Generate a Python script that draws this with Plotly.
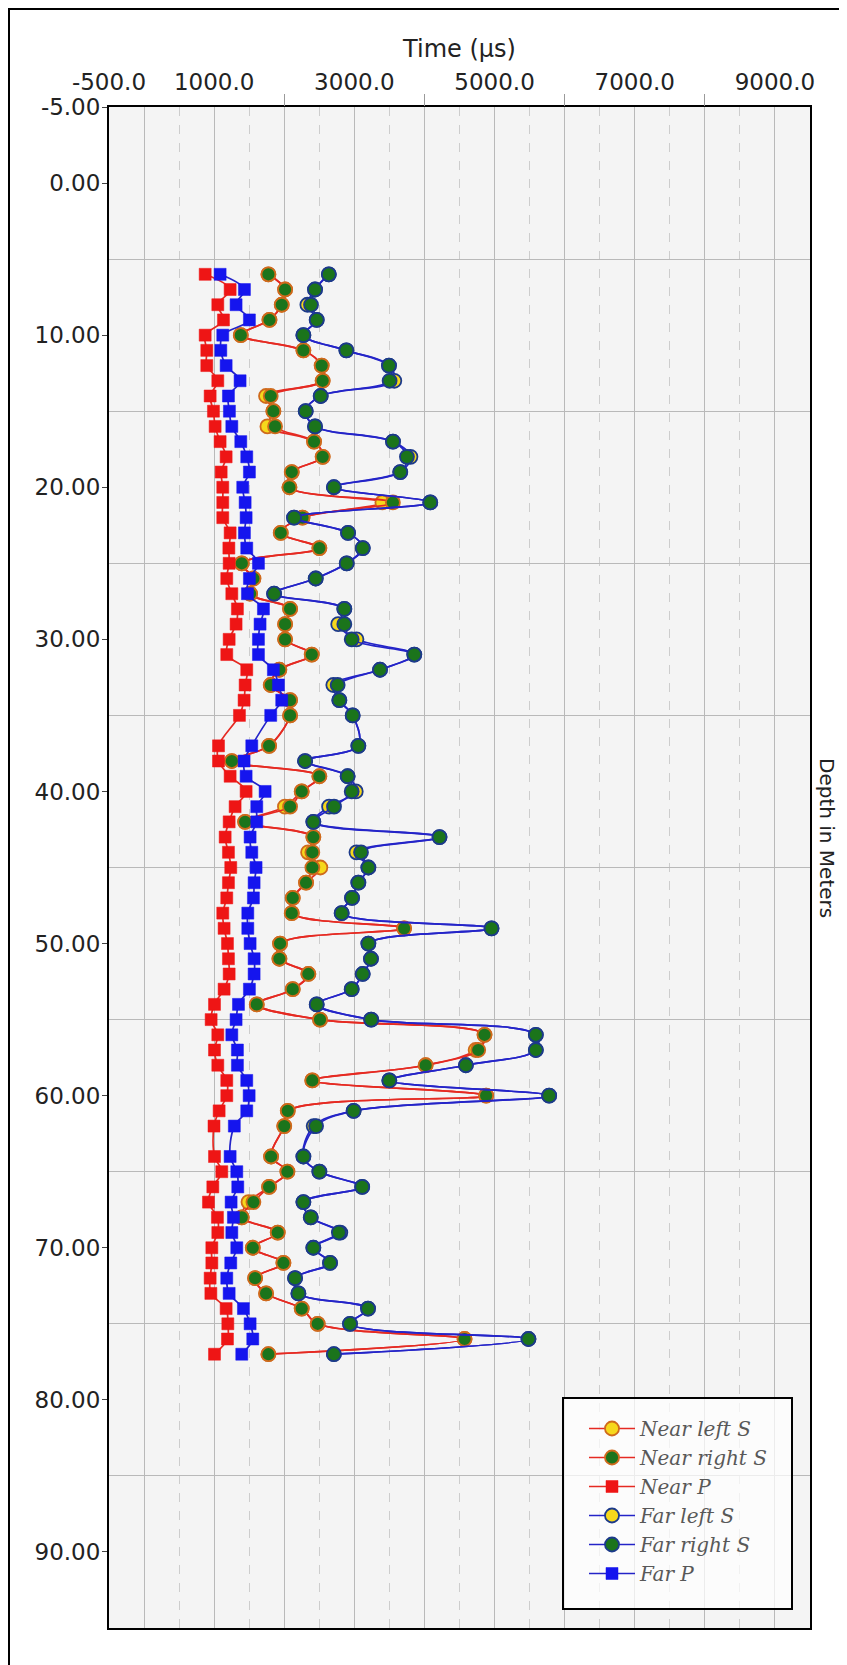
import plotly.graph_objects as go

# ---------------- data ----------------
depth = [6, 7, 8, 9, 10, 11, 12, 13, 14, 15, 16, 17, 18, 19, 20, 21, 22, 23, 24, 25,
         26, 27, 28, 29, 30, 31, 32, 33, 34, 35, 37, 38, 39, 40, 41, 42, 43, 44, 45, 46,
         47, 48, 49, 50, 51, 52, 53, 54, 55, 56, 57, 58, 59, 60, 61, 62, 64, 65, 66, 67,
         68, 69, 70, 71, 72, 73, 74, 75, 76, 77]

near_p = [872, 1228, 1052, 1133, 872, 895, 895, 1052, 943, 990, 1014, 1085, 1171, 1100, 1123, 1123, 1123, 1228, 1210, 1214,
          1180, 1252, 1332, 1313, 1214, 1180, 1465, 1442, 1427, 1361, 1062, 1062, 1228, 1456, 1299, 1214, 1157, 1204, 1237, 1204,
          1180, 1123, 1142, 1190, 1204, 1214, 1142, 1005, 957, 1052, 1005, 1052, 1180, 1180, 1071, 998, 1005, 1109, 981, 919,
          1047, 1052, 967, 967, 943, 953, 1171, 1195, 1190, 1005]

far_p = [1085, 1432, 1313, 1503, 1123, 1095, 1171, 1370, 1204, 1218, 1252, 1380, 1465, 1503, 1408, 1442, 1456, 1432, 1465, 1632,
         1503, 1475, 1703, 1655, 1632, 1632, 1845, 1917, 1964, 1807, 1537, 1427, 1456, 1727, 1608, 1608, 1513, 1537, 1598, 1570,
         1560, 1480, 1480, 1513, 1570, 1570, 1503, 1347, 1313, 1252, 1332, 1332, 1465, 1499, 1465, 1288, 1228, 1323, 1337, 1242,
         1275, 1252, 1323, 1237, 1180, 1214, 1418, 1513, 1551, 1394]

near_right_s = [1774, 2012, 1964, 1789, 1380, 2273, 2534, 2548, 1807, 1845, 1869, 2425, 2548, 2107, 2074, 3550, 2260, 1950, 2501, 1394,
                1560, 1513, 2083, 2012, 2012, 2392, 1930, 1807, 2083, 2083, 1784, 1252, 2501, 2249, 2083, 1442, 2415, 2401, 2401, 2311,
                2121, 2107, 3710, 1940, 1931, 2344, 2121, 1608, 2510, 4857, 4767, 4017, 2400, 4880, 2050, 2000, 1812, 2045, 1784, 1560,
                1394, 1907, 1551, 1988, 1584, 1741, 2249, 2477, 4572, 1774]

near_left_s = [1774, 2012, 1964, 1789, 1380, 2273, 2534, 2548, 1740, 1845, 1760, 2425, 2548, 2107, 2074, 3400, 2260, 1950, 2501, 1394,
               1560, 1513, 2083, 2012, 2012, 2392, 1930, 1807, 2083, 2083, 1784, 1252, 2501, 2249, 2010, 1442, 2415, 2340, 2515, 2311,
               2121, 2107, 3710, 1940, 1931, 2344, 2121, 1608, 2510, 4857, 4730, 4017, 2400, 4880, 2050, 2000, 1812, 2045, 1784, 1490,
               1394, 1907, 1551, 1988, 1584, 1741, 2249, 2477, 4572, 1774]

far_right_s = [2636, 2439, 2382, 2463, 2273, 2886, 3494, 3503, 2520, 2306, 2439, 3551, 3750, 3655, 2708, 4083, 2140, 2910, 3120, 2891,
               2449, 1855, 2857, 2857, 2962, 3855, 3366, 2762, 2786, 2976, 3057, 2297, 2904, 2962, 2710, 2415, 4215, 3095, 3200, 3057,
               2967, 2819, 4957, 3200, 3237, 3119, 2962, 2463, 3240, 5589, 5589, 4591, 3499, 5779, 2990, 2454, 2273, 2501, 3112, 2273,
               2378, 2779, 2415, 2653, 2154, 2202, 3195, 2938, 5484, 2708]

far_left_s = [2636, 2439, 2330, 2463, 2273, 2886, 3494, 3570, 2520, 2306, 2439, 3551, 3800, 3655, 2708, 4083, 2140, 2910, 3120, 2891,
              2449, 1855, 2857, 2770, 3030, 3855, 3366, 2700, 2786, 2976, 3057, 2297, 2904, 3020, 2640, 2415, 4215, 3030, 3200, 3057,
              2967, 2819, 4957, 3200, 3237, 3119, 2962, 2463, 3240, 5589, 5589, 4591, 3499, 5779, 2990, 2420, 2273, 2501, 3112, 2273,
              2378, 2800, 2415, 2653, 2154, 2202, 3195, 2938, 5484, 2708]

x_tick_vals = [-500, 0, 1000, 2000, 3000, 4000, 5000, 6000, 7000, 8000, 9000]
x_tick_text = ["-500.0", "", "1000.0", "", "3000.0", "", "5000.0", "", "7000.0", "", "9000.0"]
x_minor_vals = [500, 1500, 2500, 3500, 4500, 5500, 6500, 7500, 8500]
x_mark_vals = [2000, 4000, 6000, 8000]
y_tick_vals = [-5, 0, 10, 20, 30, 40, 50, 60, 70, 80, 90]
y_minor_vals = [5, 15, 25, 35, 45, 55, 65, 75, 85]

# ---------------- styles ----------------
RED = "#e52a22"
BLUE = "#2424c8"
GREEN = "#1b741b"
YELLOW = "#f6d81c"
NEAR_EDGE = "#cf6a1c"
FAR_EDGE = "#1c3a8a"

series = [
    ("Near left S", near_left_s, RED, "circle", YELLOW, NEAR_EDGE, 14),
    ("Near right S", near_right_s, RED, "circle", GREEN, NEAR_EDGE, 14),
    ("Near P", near_p, RED, "square", "#ee1515", "#ee1515", 12),
    ("Far left S", far_left_s, BLUE, "circle", YELLOW, FAR_EDGE, 14),
    ("Far right S", far_right_s, BLUE, "circle", GREEN, FAR_EDGE, 14),
    ("Far P", far_p, BLUE, "square", "#1515ee", "#1515ee", 12),
]

fig = go.Figure()
for name, vals, lc, sym, fill, edge, size in series:
    fig.add_trace(go.Scatter(
        x=vals, y=depth, name=name, mode="lines+markers",
        line=dict(color=lc, width=1.7, shape="spline", smoothing=1),
        marker=dict(symbol=sym, size=size, color=fill,
                    line=dict(color=edge, width=1.8 if sym == "circle" else 0.5)),
    ))

# invisible helper trace so the tick-mark-only overlay axis is drawn
fig.add_trace(go.Scatter(x=[None], y=[None], xaxis="x2", yaxis="y",
                         showlegend=False, hoverinfo="skip", mode="markers"))

# page body has an 8px margin, so the figure is 8px smaller than the window
OFF = 8
W, H = 847 - OFF, 1665 - OFF
L, R, T, B = 101, 37, 99, 37
pw, ph = W - L - R, H - T - B


def px_x(p):
    return (p - OFF - L) / pw


def px_y(p):
    return (H - B - (p - OFF)) / ph


X_TICK_FONT = dict(family="DejaVu Sans", size=23, color="#222222")
Y_TICK_FONT = dict(family="DejaVu Sans", size=23, color="#222222")

fig.update_layout(
    width=W, height=H,
    margin=dict(l=L, r=R, t=T, b=B, pad=0),
    paper_bgcolor="white",
    plot_bgcolor="#f4f4f4",
    font=dict(family="DejaVu Sans", size=20, color="#222222"),
    showlegend=True,
    legend=dict(
        x=px_x(584), y=px_y(1409), xanchor="left", yanchor="top",
        bgcolor="rgba(0,0,0,0)", borderwidth=0,
        font=dict(family="DejaVu Serif", size=20, color="#585858", style="italic"),
        itemwidth=46, tracegroupgap=0,
    ),
    xaxis=dict(
        side="top", range=[-500, 9500], tickmode="array",
        tickvals=x_tick_vals, ticktext=x_tick_text,
        showgrid=True, gridcolor="#b9b9b9", gridwidth=1,
        minor=dict(tickmode="array", tickvals=x_minor_vals, showgrid=True,
                   gridcolor="#cdcdcd", griddash="dash", gridwidth=1, ticks=""),
        ticks="", zeroline=False, ticklabelstandoff=6,
        showline=True, linecolor="black", linewidth=2, mirror=True,
        tickfont=X_TICK_FONT,
        title=dict(text="Time (µs)", font=dict(family="DejaVu Sans", size=24, color="#222222"),
                   standoff=4),
    ),
    xaxis2=dict(
        overlaying="x", matches="x", side="top", anchor="y",
        tickmode="array", tickvals=x_mark_vals, ticks="outside", ticklen=12,
        tickcolor="#9a9a9a", tickwidth=1, showticklabels=False,
        showgrid=False, zeroline=False, showline=False,
    ),
    yaxis=dict(
        range=[95, -5], tickmode="array",
        tickvals=y_tick_vals, ticktext=["%.2f" % v for v in y_tick_vals],
        showgrid=False, zeroline=False,
        minor=dict(tickmode="array", tickvals=y_minor_vals, showgrid=True,
                   gridcolor="#b9b9b9", gridwidth=1, ticks=""),
        ticks="outside", ticklen=5, tickcolor="#444444", ticklabelstandoff=-3,
        showline=True, linecolor="black", linewidth=2, mirror=True,
        tickfont=Y_TICK_FONT,
    ),
    annotations=[dict(
        text="Depth in Meters", textangle=90, showarrow=False,
        xref="paper", yref="paper", x=px_x(827), y=px_y(838),
        xanchor="center", yanchor="middle",
        font=dict(family="DejaVu Sans", size=20, color="#222222"),
    )],
    shapes=[
        # legend box
        dict(type="rect", xref="paper", yref="paper",
             x0=px_x(563), x1=px_x(792), y0=px_y(1609), y1=px_y(1398),
             fillcolor="rgba(255,255,255,0.72)", line=dict(color="black", width=2),
             layer="above"),
        # outer frame
        dict(type="rect", xref="paper", yref="paper",
             x0=px_x(9), x1=px_x(846), y0=px_y(1690), y1=px_y(9),
             fillcolor="rgba(0,0,0,0)", line=dict(color="black", width=2),
             layer="above"),
    ],
)

fig.write_html("out.html")
